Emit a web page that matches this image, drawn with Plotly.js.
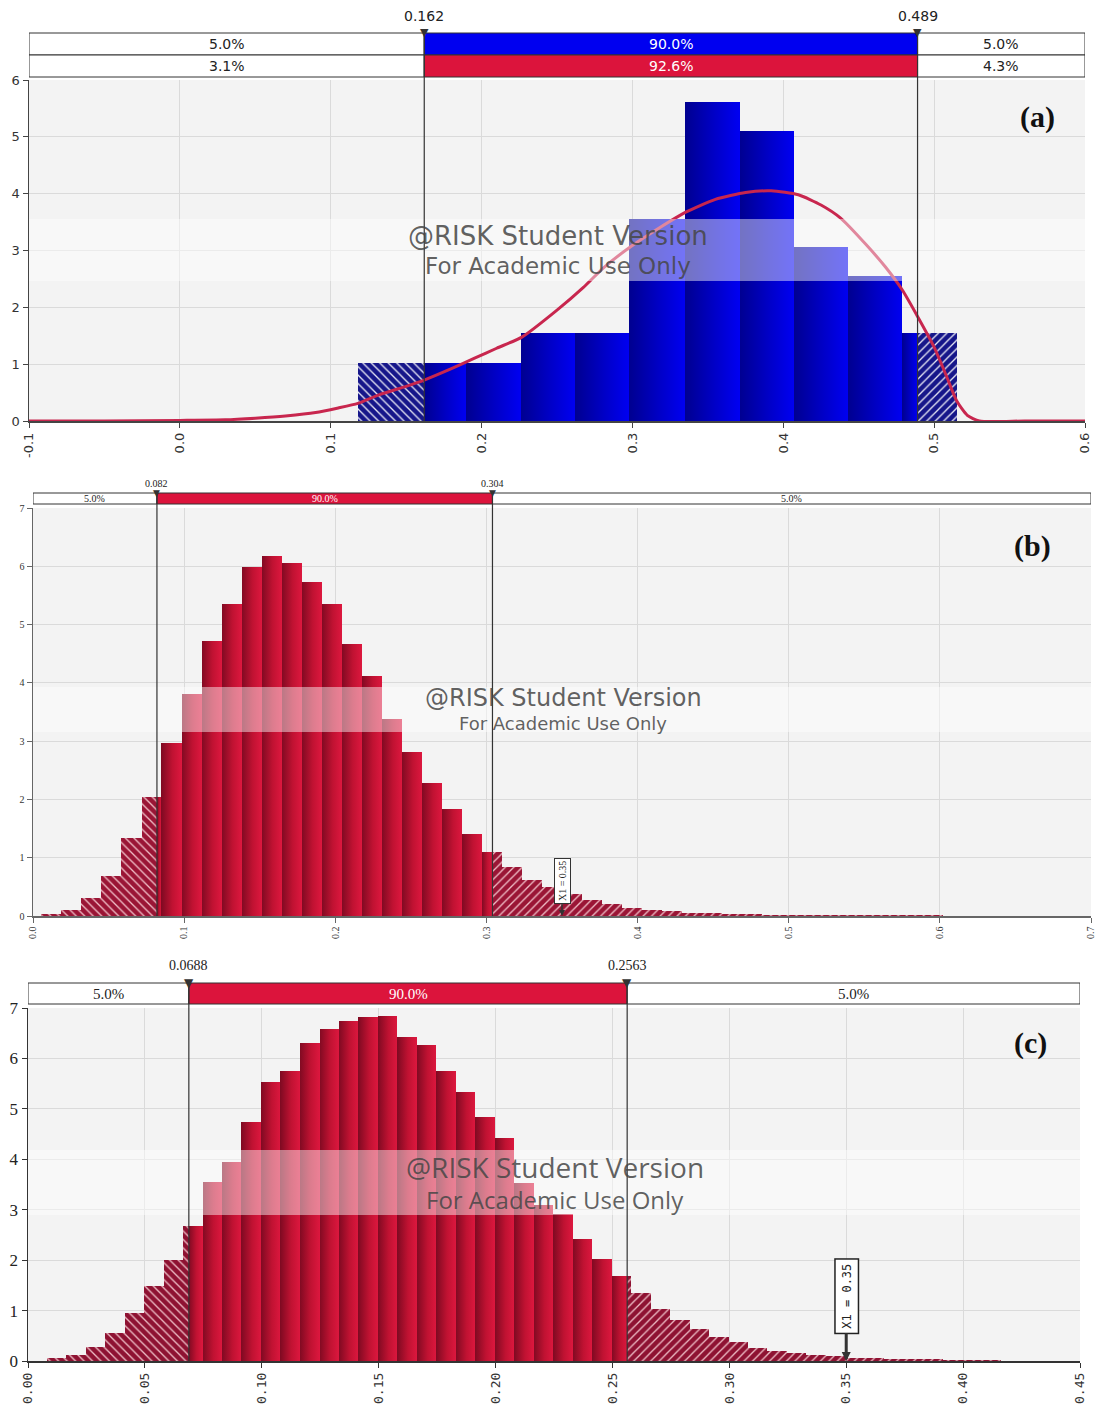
<!DOCTYPE html>
<html><head><meta charset="utf-8">
<script src="https://cdn.plot.ly/plotly-3.0.1.min.js"></script>
<style>body{margin:0;background:#fff}#chart{width:1100px;height:1412px}</style>
</head><body><div id="chart"></div>
<script>
// ---------------- Panel (a) ----------------
const aEdges   = [0.118,0.154,0.190,0.226,0.262,0.298,0.335,0.371,0.407,0.443,0.479,0.515];
const aDensity = [1.02,1.02,1.02,1.54,1.54,3.56,5.61,5.10,3.06,2.55,1.54];
const aCurveX  = [-0.10,-0.05,0.00,0.03,0.05,0.07,0.09,0.105,0.118,0.132,0.150,0.162,0.180,0.195,0.210,0.227,0.250,0.2675,0.281,0.299,0.318,0.335,0.355,0.375,0.392,0.410,0.425,0.438,0.455,0.468,0.479,0.489,0.500,0.508,0.515,0.522,0.530,0.560,0.600];
const aCurveY  = [0,0,0.01,0.02,0.05,0.09,0.15,0.23,0.31,0.46,0.61,0.72,0.92,1.10,1.28,1.48,1.95,2.35,2.70,3.07,3.40,3.67,3.90,4.02,4.05,3.98,3.80,3.57,3.10,2.70,2.30,1.84,1.30,0.80,0.35,0.10,0,0,0];
const aCuts    = [0.162, 0.489];
const aCutText = ['0.162','0.489'];
const aRow1    = ['5.0%','90.0%','5.0%'];
const aRow2    = ['3.1%','92.6%','4.3%'];
const aTickVals = [-0.1,0.0,0.1,0.2,0.3,0.4,0.5,0.6];
const aTickText = ['-0.1','0.0','0.1','0.2','0.3','0.4','0.5','0.6'];

// ---------------- Panel (b) ----------------
const bEdges = [0.0055,0.0188,0.0320,0.0453,0.0585,0.0718,0.0850,0.0983,0.1115,0.1248,0.1380,0.1513,0.1645,0.1778,0.1910,0.2043,0.2175,0.2308,0.2440,0.2573,0.2705,0.2838,0.2970,0.3103,0.3235,0.3368,0.3500,0.3633,0.3765,0.3898,0.4030,0.4163,0.4295,0.4428,0.4560,0.4693,0.4825,0.4958,0.5090,0.5223,0.5355,0.5488,0.5620,0.5753,0.5885,0.6018,0.6150,0.6283,0.6415,0.6548,0.6680];
const bDensity = [0.03,0.10,0.31,0.68,1.34,2.05,2.97,3.81,4.72,5.35,5.99,6.18,6.06,5.73,5.35,4.67,4.11,3.38,2.82,2.29,1.83,1.40,1.10,0.84,0.61,0.49,0.37,0.27,0.20,0.14,0.11,0.08,0.06,0.045,0.035,0.03,0.025,0.02,0.02,0.015,0.015,0.012,0.01,0.01,0.01,0.008,0.008,0.006,0.005,0.005];
const bCuts    = [0.082, 0.304];
const bCutText = ['0.082','0.304'];
const bRow     = ['5.0%','90.0%','5.0%'];
const bMarker  = 0.35;
const bTickVals = [0,0.1,0.2,0.3,0.4,0.5,0.6,0.7];
const bTickText = ['0.0','0.1','0.2','0.3','0.4','0.5','0.6','0.7'];

// ---------------- Panel (c) ----------------
const cEdges = [0.0080,0.0163,0.0247,0.0330,0.0413,0.0497,0.0580,0.0663,0.0747,0.0830,0.0913,0.0997,0.1080,0.1163,0.1247,0.1330,0.1413,0.1497,0.1580,0.1663,0.1747,0.1830,0.1913,0.1997,0.2080,0.2163,0.2247,0.2330,0.2413,0.2497,0.2580,0.2663,0.2747,0.2830,0.2913,0.2997,0.3080,0.3163,0.3247,0.3330,0.3413,0.3497,0.3580,0.3663,0.3747,0.3830,0.3913,0.3997,0.4080,0.4163];
const cDensity = [0.05,0.12,0.27,0.55,0.95,1.48,2.01,2.67,3.54,3.95,4.73,5.53,5.76,6.30,6.58,6.74,6.82,6.85,6.42,6.27,5.76,5.34,4.83,4.42,3.53,3.10,2.91,2.42,2.02,1.68,1.35,1.03,0.82,0.63,0.48,0.38,0.25,0.20,0.15,0.12,0.09,0.06,0.05,0.04,0.03,0.03,0.025,0.02,0.02];
const cCuts    = [0.0688, 0.2563];
const cCutText = ['0.0688','0.2563'];
const cRow     = ['5.0%','90.0%','5.0%'];
const cMarker  = 0.35;
const cTickVals = [0,0.05,0.10,0.15,0.20,0.25,0.30,0.35,0.40,0.45];
const cTickText = ['0.00','0.05','0.10','0.15','0.20','0.25','0.30','0.35','0.40','0.45'];

const wmLine1 = '@RISK Student Version';
const wmLine2 = 'For Academic Use Only';

// ---------------- helpers ----------------
const W = 1100, H = 1412;
const PX = v => v / W, PY = v => 1 - v / H;

function split(edges, dens, lo, hi) {
  const L = {x:[],w:[],y:[]}, M = {x:[],w:[],y:[]}, R = {x:[],w:[],y:[]};
  const push = (o,a,b,v) => { o.x.push((a+b)/2); o.w.push(b-a); o.y.push(v); };
  for (let i = 0; i < dens.length; i++) {
    const l = edges[i], r = edges[i+1], v = dens[i];
    if (l < lo) push(L, l, Math.min(r, lo), v);
    if (r > lo && l < hi) push(M, Math.max(l, lo), Math.min(r, hi), v);
    if (r > hi) push(R, Math.max(l, hi), r, v);
  }
  return [L, M, R];
}

function barTraces(edges, dens, cuts, xa, ya, solidName, solidColor, hatchBg, hatchFg) {
  const [L, M, R] = split(edges, dens, cuts[0], cuts[1]);
  const mk = (s, name, marker) => ({type:'bar', x:s.x, y:s.y, width:s.w, xaxis:xa, yaxis:ya,
    name:name, marker:marker, hoverinfo:'skip'});
  return [
    mk(L, 'hatchL', {color:hatchBg, line:{width:0},
      pattern:{shape:'\\', fgcolor:hatchFg, bgcolor:hatchBg, size:6, solidity:0.22}}),
    mk(M, solidName, {color:solidColor, line:{width:0}}),
    mk(R, 'hatchR', {color:hatchBg, line:{width:0},
      pattern:{shape:'/', fgcolor:hatchFg, bgcolor:hatchBg, size:6, solidity:0.22}})
  ];
}

const data = [
  ...barTraces(aEdges, aDensity, aCuts, 'x', 'y', 'solidBlue', '#0000d0', '#16168a', 'rgba(255,255,255,0.9)'),
  {type:'scatter', mode:'lines', x:aCurveX, y:aCurveY, xaxis:'x', yaxis:'y',
   line:{color:'#c8264e', width:3, shape:'spline', smoothing:0.6}, hoverinfo:'skip'},
  ...barTraces(bEdges, bDensity, bCuts, 'x2', 'y2', 'solidRed', '#c01232', '#9a1535', 'rgba(255,220,225,0.85)'),
  ...barTraces(cEdges, cDensity, cCuts, 'x3', 'y3', 'solidRed', '#c01232', '#8e1232', 'rgba(255,220,225,0.85)')
];

// axis styling
function xAxis(dom, range, tv, tt, anchor, font, lineColor) {
  return {domain:[PX(dom[0]), PX(dom[1])], range:range, anchor:anchor, tickmode:'array',
    tickvals:tv, ticktext:tt, tickangle:-90, tickfont:font, showgrid:true, gridcolor:'#dadada',
    gridwidth:1, zeroline:false, showline:true, linecolor:lineColor, linewidth:1.5,
    ticks:'outside', ticklen:5, tickcolor:lineColor, fixedrange:true};
}
function yAxis(dom, range, anchor, font, lineColor) {
  return {domain:[PY(dom[1]), PY(dom[0])], range:range, anchor:anchor, dtick:1,
    tickfont:font, showgrid:true, gridcolor:'#dadada', gridwidth:1, zeroline:false,
    showline:true, linecolor:lineColor, linewidth:1.5, ticks:'outside', ticklen:5,
    tickcolor:lineColor, fixedrange:true};
}

const fA = {family:'DejaVu Sans', size:13, color:'#333'};
const fB = {family:'Liberation Serif', size:10, color:'#333'};
const fCx = {family:'DejaVu Sans Mono', size:13, color:'#333'};
const fCy = {family:'Liberation Serif', size:17, color:'#222'};

const pa = {xdom:[29,1085], ydom:[80,421], xr:[-0.1,0.6]};
const pb = {xdom:[33,1091], ydom:[508,916], xr:[0,0.7]};
const pc = {xdom:[28,1080], ydom:[1008,1361], xr:[0,0.45]};

const shapes = [], annotations = [];

// watermark band + text
function watermark(p, yTop, yBot, y1, y2, f1, f2) {
  shapes.push({type:'rect', xref:'paper', yref:'paper', x0:PX(p.xdom[0]), x1:PX(p.xdom[1]),
    y0:PY(yBot), y1:PY(yTop), fillcolor:'rgba(255,255,255,0.45)', line:{width:0}, layer:'above'});
  annotations.push({xref:'paper', yref:'paper', x:f1.cx, y:PY(y1), text:wmLine1, showarrow:false,
    font:{family:f1.family, size:f1.size, color:'rgba(70,70,70,0.85)'}, xanchor:'center', yanchor:'middle'});
  annotations.push({xref:'paper', yref:'paper', x:f2.cx, y:PY(y2), text:wmLine2, showarrow:false,
    font:{family:f2.family, size:f2.size, color:'rgba(70,70,70,0.85)'}, xanchor:'center', yanchor:'middle'});
}
watermark(pa, 219, 281, 236, 266, {cx:PX(558), family:'DejaVu Sans', size:26}, {cx:PX(558), family:'DejaVu Sans', size:23});
watermark(pb, 687, 732, 698, 723, {cx:PX(563), family:'DejaVu Sans', size:24}, {cx:PX(563), family:'DejaVu Sans', size:18});
watermark(pc, 1150, 1215, 1167, 1199, {cx:PX(555), family:'Open Sans', size:28}, {cx:PX(555), family:'Open Sans', size:24});

// percentile frames, cut lines, markers
function frame(p, xa, cuts, cutText, rows, midColors, rowFont, cutFont, labelY, axisBottom) {
  const xs = [p.xr[0], cuts[0], cuts[1], p.xr[1]];
  rows.forEach((r, ri) => {
    for (let k = 0; k < 3; k++) {
      shapes.push({type:'rect', xref:xa, yref:'paper', x0:xs[k], x1:xs[k+1], y0:PY(r.bot), y1:PY(r.top),
        fillcolor: k === 1 ? midColors[ri] : 'white', line:{color:'#333', width:1}, layer:'above'});
      annotations.push({xref:xa, yref:'paper', x:(xs[k]+xs[k+1])/2, y:PY((r.top+r.bot)/2), text:r.text[k],
        showarrow:false, xanchor:'center', yanchor:'middle',
        font:{family:rowFont.family, size:rowFont.size, color: k === 1 ? 'white' : '#222'}});
    }
  });
  const top = rows[0].top;
  cuts.forEach((c, i) => {
    shapes.push({type:'line', xref:xa, yref:'paper', x0:c, x1:c, y0:PY(axisBottom), y1:PY(top),
      line:{color:'#333', width:1.2}, layer:'above'});
    annotations.push({xref:xa, yref:'paper', x:c, y:PY(top), text:'▼', showarrow:false,
      xanchor:'center', yanchor:'middle', font:{family:'DejaVu Sans', size:cutFont.tri, color:'#333'}});
    annotations.push({xref:xa, yref:'paper', x:c, y:PY(labelY), text:cutText[i], showarrow:false,
      xanchor:'center', yanchor:'middle', font:{family:cutFont.family, size:cutFont.size, color:'#222'}});
  });
}
frame(pa, 'x', aCuts, aCutText,
  [{top:33, bot:55, text:aRow1}, {top:55, bot:77, text:aRow2}], ['#0000f0', '#dc143c'],
  {family:'DejaVu Sans', size:14}, {family:'DejaVu Sans', size:14, tri:11}, 16, 421);
frame(pb, 'x2', bCuts, bCutText,
  [{top:493, bot:504, text:bRow}], ['#dc143c'],
  {family:'Liberation Serif', size:10}, {family:'Liberation Serif', size:10, tri:9}, 483, 916);
frame(pc, 'x3', cCuts, cCutText,
  [{top:983, bot:1004, text:cRow}], ['#dc143c'],
  {family:'Liberation Sans Narrow', size:15}, {family:'Liberation Sans Narrow', size:14, tri:12}, 965, 1361);

// X1 markers
annotations.push({xref:'x2', yref:'y2', x:bMarker, y:0, text:'X1 = 0.35', textangle:-90, showarrow:true,
  ax:0, ay:-35, arrowhead:2, arrowsize:0.8, arrowwidth:1.5, arrowcolor:'#333', bgcolor:'white',
  bordercolor:'#333', borderwidth:1, borderpad:2, font:{family:'Liberation Serif', size:10, color:'#222'}});
annotations.push({xref:'x3', yref:'y3', x:cMarker, y:0, text:'X1 = 0.35', textangle:-90, showarrow:true,
  ax:0, ay:-65, arrowhead:2, arrowsize:0.6, arrowwidth:3, arrowcolor:'#333', bgcolor:'white',
  bordercolor:'#222', borderwidth:1.5, borderpad:4, font:{family:'DejaVu Sans Mono', size:12, color:'#222'}});

// panel labels
[['(a)',1037,117],['(b)',1032,546],['(c)',1030,1043]].forEach(([t,x,y]) => {
  annotations.push({xref:'paper', yref:'paper', x:PX(x), y:PY(y), text:'<b>'+t+'</b>', showarrow:false,
    xanchor:'center', yanchor:'middle', font:{family:'Liberation Serif', size:30, color:'#111'}});
});

const layout = {
  width:W, height:H, margin:{l:0,r:0,t:0,b:0}, paper_bgcolor:'white', plot_bgcolor:'#f3f3f3',
  showlegend:false, barmode:'overlay', bargap:0,
  xaxis:  xAxis(pa.xdom, pa.xr, aTickVals, aTickText, 'y', fA, '#444'),
  yaxis:  yAxis(pa.ydom, [0,6], 'x', fA, '#444'),
  xaxis2: xAxis(pb.xdom, pb.xr, bTickVals, bTickText, 'y2', fB, '#666'),
  yaxis2: yAxis(pb.ydom, [0,7], 'x2', fB, '#666'),
  xaxis3: xAxis(pc.xdom, pc.xr, cTickVals, cTickText, 'y3', fCx, '#333'),
  yaxis3: yAxis(pc.ydom, [0,7], 'x3', fCy, '#333'),
  shapes:shapes, annotations:annotations
};

Plotly.newPlot('chart', data, layout, {staticPlot:true, displayModeBar:false}).then(gd => {
  const ns = 'http://www.w3.org/2000/svg';
  const svg = gd.querySelector('svg.main-svg');
  let defs = svg.querySelector('defs');
  if (!defs) { defs = document.createElementNS(ns, 'defs'); svg.insertBefore(defs, svg.firstChild); }
  function grad(id, stops) {
    const g = document.createElementNS(ns, 'linearGradient');
    g.setAttribute('id', id); g.setAttribute('x1','0'); g.setAttribute('x2','1');
    g.setAttribute('y1','0'); g.setAttribute('y2','0');
    stops.forEach(([o,c]) => { const s = document.createElementNS(ns,'stop');
      s.setAttribute('offset', o); s.setAttribute('stop-color', c); g.appendChild(s); });
    defs.appendChild(g);
  }
  grad('gRed',  [['0','#800a22'],['0.55','#c01232'],['1','#dc173e']]);
  grad('gBlue', [['0','#000090'],['0.55','#0000c8'],['1','#0000f2']]);
  gd.querySelectorAll('g.trace.bars').forEach(g => {
    const d = g.__data__; const tr = d && d[0] && d[0].trace;
    if (!tr) return;
    const id = tr.name === 'solidBlue' ? 'gBlue' : (tr.name === 'solidRed' ? 'gRed' : null);
    if (!id) return;
    g.querySelectorAll('path').forEach(p => { p.style.fill = 'url(#' + id + ')'; });
  });
});
</script>
</body></html>
